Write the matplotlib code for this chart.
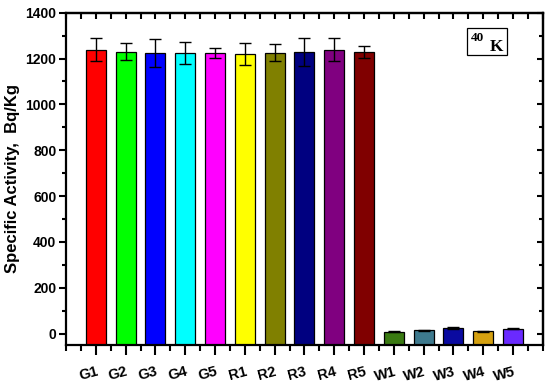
import matplotlib
matplotlib.use('Agg')
from matplotlib import pyplot as plt
from matplotlib.ticker import MultipleLocator
from matplotlib.patches import Rectangle
import numpy as np

samples = ['G1', 'G2', 'G3', 'G4', 'G5', 'R1', 'R2', 'R3', 'R4', 'R5',
           'W1', 'W2', 'W3', 'W4', 'W5']
activity = [1239, 1229, 1224, 1222, 1226, 1219, 1226, 1229, 1239, 1229,
            8, 14, 24, 10, 20]
errors = [50, 37, 60, 48, 22, 48, 37, 60, 50, 25,
          3, 2, 3, 2, 2]
colors = ['#FF0000', '#00FF00', '#0000FF', '#00FFFF', '#FF00FF',
          '#FFFF00', '#808000', '#000080', '#800080', '#800000',
          '#3A7A12', '#3E7A8E', '#0A0AA0', '#D4A010', '#6A2AFF']

plt.rcParams['font.family'] = ['Liberation Sans', 'DejaVu Sans']
plt.rcParams['font.weight'] = 'bold'

fig = plt.figure(figsize=(5.5, 3.85), dpi=100)
ax = fig.add_axes([0.12, 0.104, 0.867, 0.863])

# bars start from the bottom of the axis like in the original plot
base = -50
x = np.arange(1, len(samples) + 1)
heights = [v - base for v in activity]
ax.bar(x, heights, bottom=base, width=0.67, color=colors, edgecolor='black', linewidth=0.9,
       yerr=errors, capsize=4.5, error_kw=dict(ecolor='black', elinewidth=1, capthick=1))

ax.set_xlim(0, 16)
ax.set_ylim(-50, 1400)
ax.set_xticks(x)
ax.set_xticklabels(samples, rotation=15, fontsize=10.5, fontweight='bold',
                   ha='right', va='top', rotation_mode='anchor')
ax.xaxis.set_minor_locator(MultipleLocator(0.5))
ax.yaxis.set_major_locator(MultipleLocator(200))
ax.yaxis.set_minor_locator(MultipleLocator(100))
for lab in ax.get_yticklabels():
    lab.set_fontweight('bold')
    lab.set_fontsize(10)

ax.tick_params(which='major', direction='out', length=5, width=1.5)
ax.tick_params(which='minor', direction='out', length=3, width=1.5)
ax.tick_params(axis='x', which='major', length=7, pad=7)
ax.tick_params(axis='x', which='minor', length=4)
ax.tick_params(axis='y', pad=2)
for s in ax.spines.values():
    s.set_linewidth(1.6)

top = ax.secondary_xaxis('top')
top.set_xticks(x)
top.xaxis.set_minor_locator(MultipleLocator(0.5))
top.tick_params(which='both', direction='in', labeltop=False, length=4, width=1.5)
top.spines['top'].set_linewidth(1.6)

right = ax.secondary_yaxis('right')
right.yaxis.set_major_locator(MultipleLocator(200))
right.yaxis.set_minor_locator(MultipleLocator(100))
right.tick_params(which='both', direction='in', labelright=False, width=1.5)
right.tick_params(which='major', length=4)
right.tick_params(which='minor', length=3)
right.spines['right'].set_linewidth(1.6)

ax.set_ylabel('Specific Activity,  Bq/Kg', fontsize=12, fontweight='bold', va='center')
ax.yaxis.set_label_coords(-0.113, 0.5)

# 40K label box
ax.add_patch(Rectangle((0.840, 0.873), 0.084, 0.080, transform=ax.transAxes,
                       facecolor='white', edgecolor='black', linewidth=0.9, zorder=5))
ax.text(0.863, 0.925, '40', transform=ax.transAxes, ha='center', va='center',
        fontsize=9.5, fontweight='bold', family='Liberation Serif', zorder=6)
ax.text(0.903, 0.897, 'K', transform=ax.transAxes, ha='center', va='center',
        fontsize=12.5, fontweight='bold', family='Liberation Serif', zorder=6)

fig.savefig('out.png', dpi=100)
